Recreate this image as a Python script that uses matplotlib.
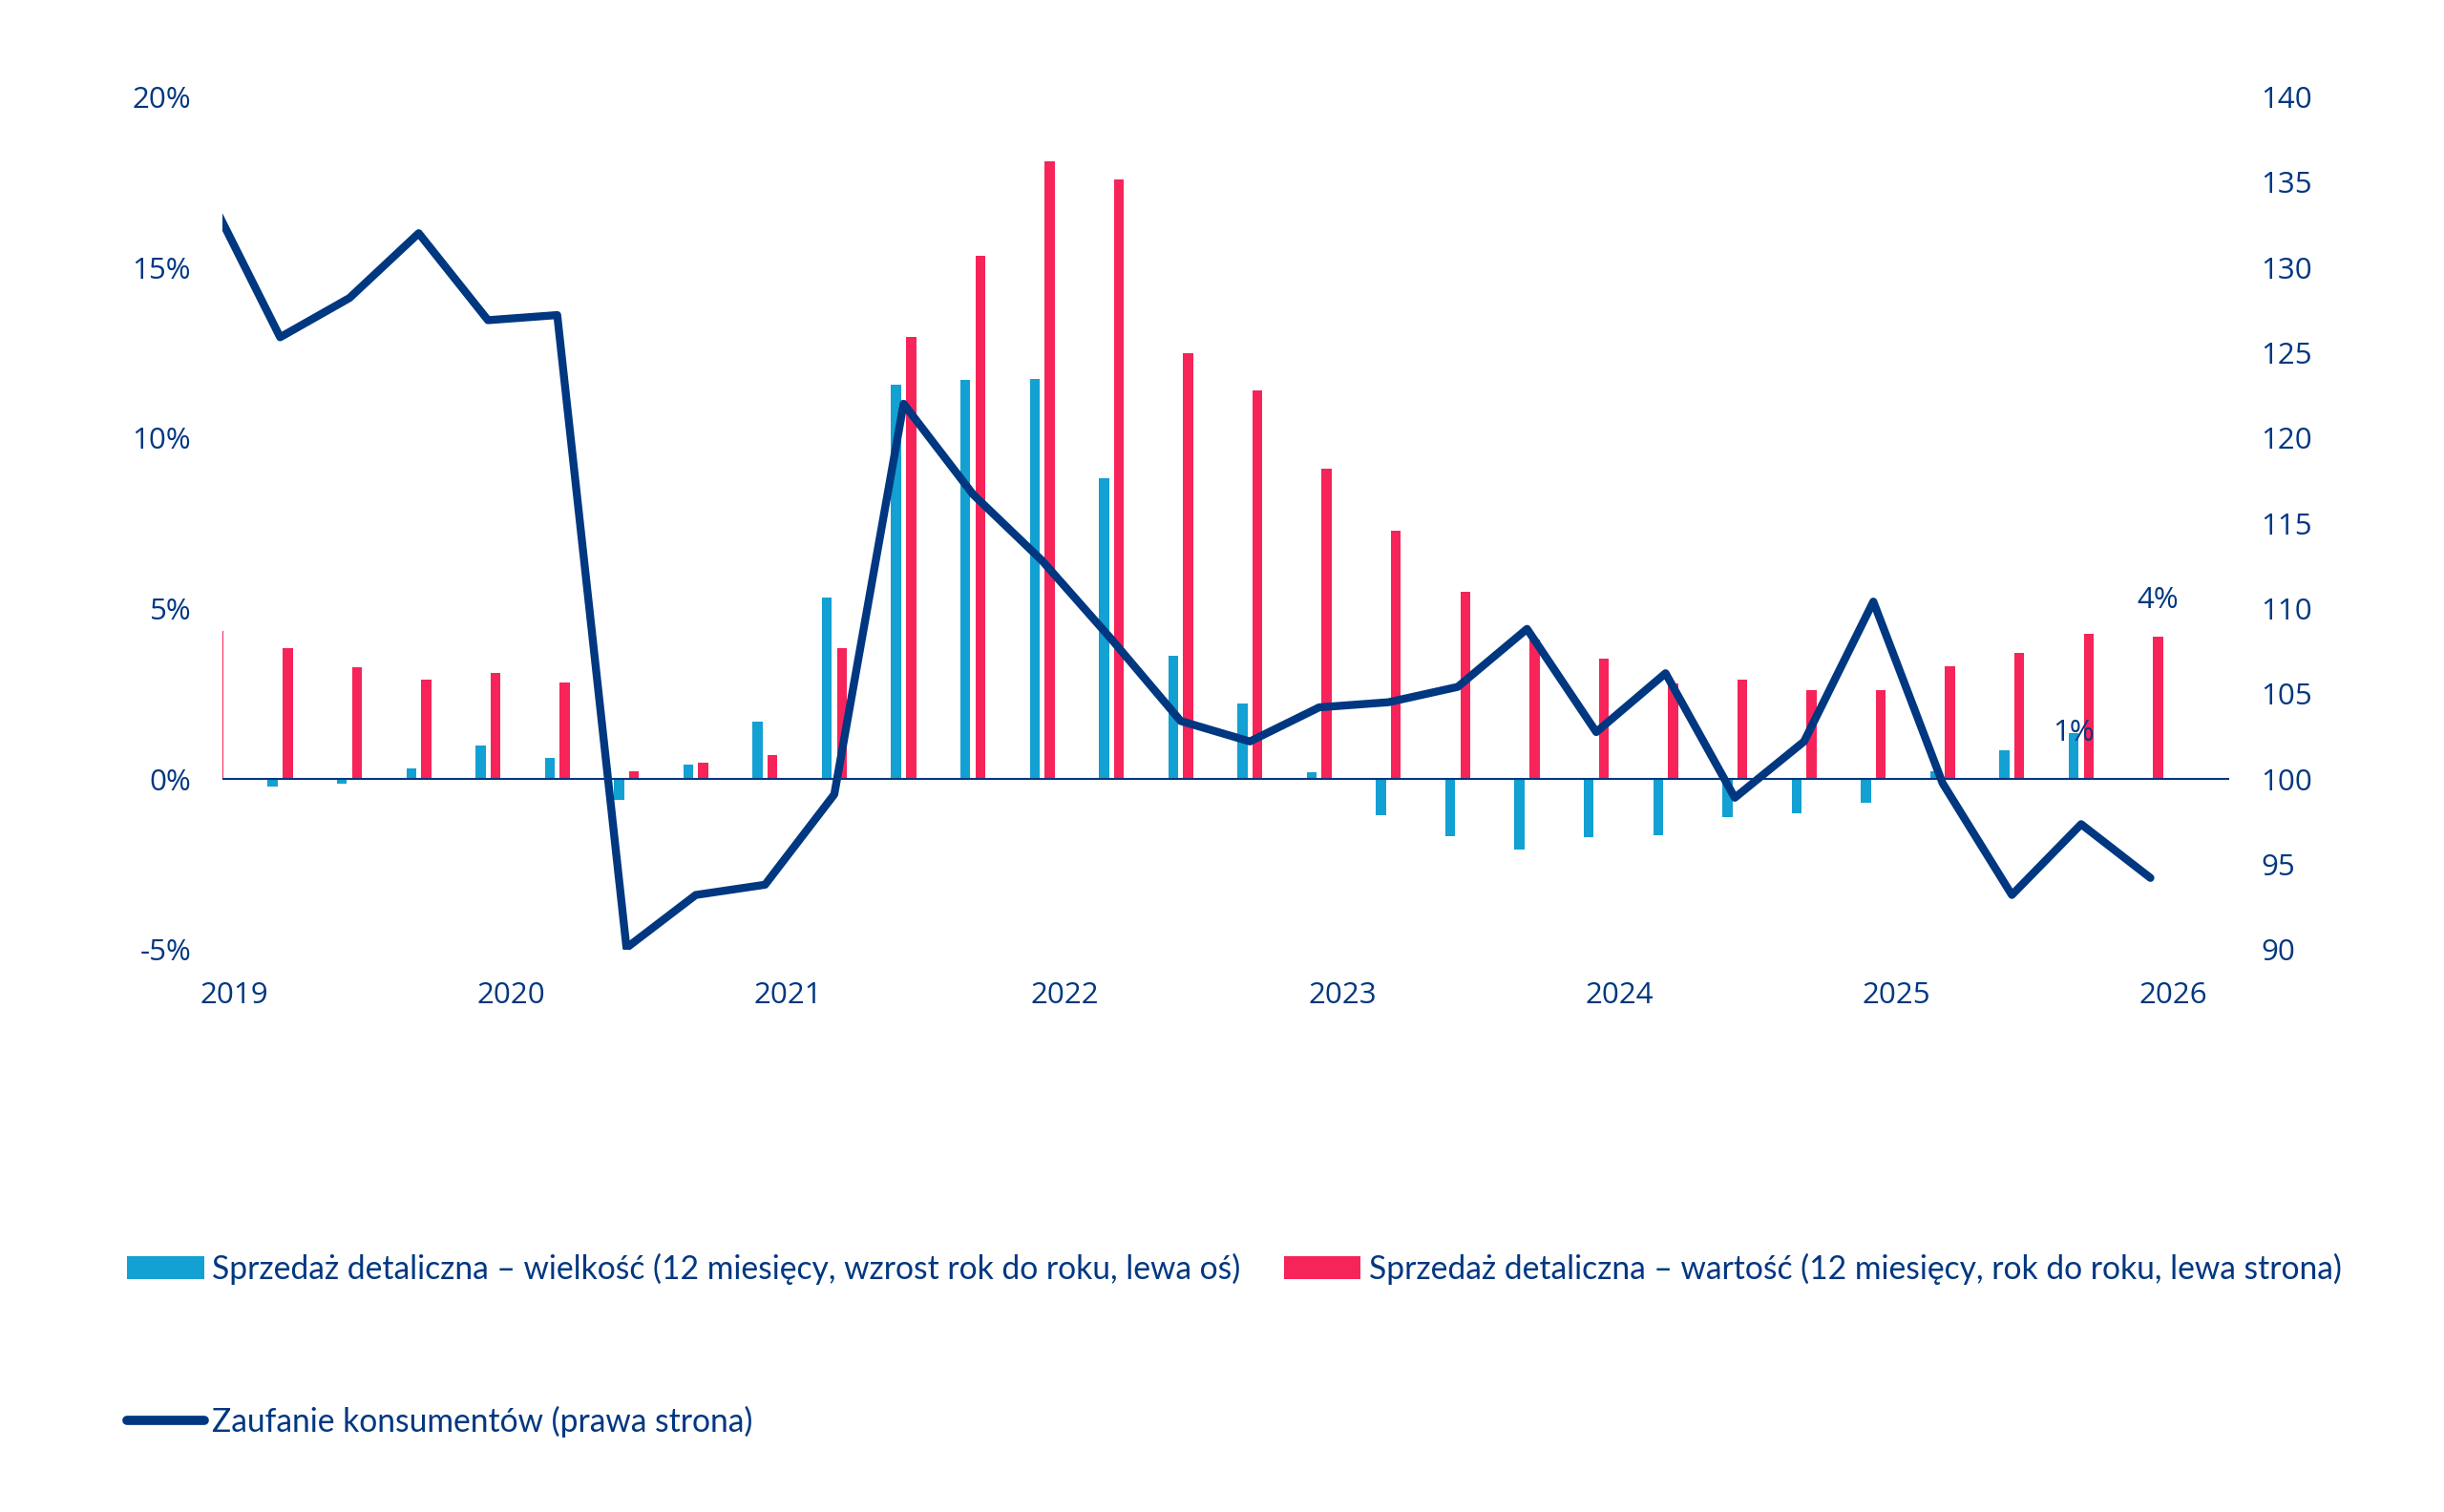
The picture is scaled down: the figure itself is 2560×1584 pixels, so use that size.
""" Retail sales vs consumer confidence chart

"""

# --------------------------------------------------
#   Imports
# --------------------------------------------------

import numpy as np
import matplotlib.pyplot as plt
from matplotlib.lines import Line2D
from matplotlib.patches import Patch


# --------------------------------------------------
#   Data
# --------------------------------------------------

periods = [
    "2018-11",
    "2019-02", "2019-05", "2019-08", "2019-11",
    "2020-02", "2020-05", "2020-08", "2020-11",
    "2021-02", "2021-05", "2021-08", "2021-11",
    "2022-02", "2022-05", "2022-08", "2022-11",
    "2023-02", "2023-05", "2023-08", "2023-11",
    "2024-02", "2024-05", "2024-08", "2024-11",
    "2025-02", "2025-05", "2025-08", "2025-11",
]

# retail sales volume, % y/y (left axis)
sales_volume = [
    np.nan,
    -0.23, -0.14, 0.32, 0.97,
    0.63, -0.62, 0.41, 1.69,
    5.33, 11.55, 11.69, 11.73,
    8.82, 3.62, 2.20, 0.21,
    -1.06, -1.68, -2.08, -1.71,
    -1.66, -1.13, -1.00, -0.71,
    0.23, 0.85, 1.34, np.nan,
]

# retail sales value, % y/y (left axis)
sales_value = [
    4.35,
    3.84, 3.28, 2.91, 3.12,
    2.84, 0.23, 0.49, 0.71,
    3.84, 12.96, 15.34, 18.11,
    17.57, 12.47, 11.38, 9.10,
    7.27, 5.49, 4.10, 3.53,
    2.80, 2.91, 2.61, 2.61,
    3.30, 3.70, 4.25, 4.18,
]

# consumer confidence index (right axis)
confidence = [
    134.0,
    125.9, 128.2, 132.0, 126.9,
    127.2, 90.1, 93.2, 93.8,
    99.1, 122.0, 116.7, 112.8,
    108.2, 103.4, 102.2, 104.2,
    104.5, 105.4, 108.8, 102.75,
    106.2, 98.9, 102.2, 110.4,
    99.75, 93.2, 97.35, 94.2,
]

year_ticks = [2019, 2020, 2021, 2022, 2023, 2024, 2025, 2026]
left_ticks = [-5, 0, 5, 10, 15, 20]
right_ticks = [90, 95, 100, 105, 110, 115, 120, 125, 130, 135, 140]

label_volume = "Sprzedaż detaliczna – wielkość (12 miesięcy, wzrost rok do roku, lewa oś)"
label_value = "Sprzedaż detaliczna – wartość (12 miesięcy, rok do roku, lewa strona)"
label_confidence = "Zaufanie konsumentów (prawa strona)"


# --------------------------------------------------
#   Style
# --------------------------------------------------

NAVY = "#003781"
LIGHT_BLUE = "#13A0D3"
RED = "#F62459"
TICK_FONT = "Open Sans"
LEGEND_FONT = "Lato"

plt.rcParams["font.family"] = [TICK_FONT, "DejaVu Sans"]


# --------------------------------------------------
#   Functions
# --------------------------------------------------

def period_to_year(period: str) -> float:
    year, month = period.split("-")
    return int(year) + int(month) / 12


def plot_chart() -> None:
    x = np.array([period_to_year(p) for p in periods])
    offset = 0.027
    width = 0.036

    fig = plt.figure(figsize=(25.6, 15.84), dpi=100)
    ax = fig.add_axes([0.0912, 0.372, 0.8208, 0.564])
    ax2 = ax.twinx()

    ax.bar(x - offset, sales_volume, width=width, color=LIGHT_BLUE)
    ax.bar(x + offset, sales_value, width=width, color=RED)
    ax.axhline(0, color=NAVY, lw=1.5)

    ax2.plot(x, confidence, color=NAVY, lw=6, solid_joinstyle="round",
             solid_capstyle="round")

    # data labels for the latest values
    ax.text(x[-2] - offset, sales_volume[-2], f"{sales_volume[-2]:.0f}%",
            ha="center", va="center", color=NAVY, fontsize=22.5, zorder=5)
    ax.text(x[-1] + offset, sales_value[-1] + 1.05, f"{sales_value[-1]:.0f}%",
            ha="center", va="center", color=NAVY, fontsize=22.5, zorder=5)

    ax.set_xlim(2018.96, 2026.2)
    ax.set_ylim(-5, 20)
    ax2.set_ylim(90, 140)
    ax.set_xticks(year_ticks)
    ax.set_xticklabels([str(y) for y in year_ticks])
    ax.set_yticks(left_ticks)
    ax.set_yticklabels([f"{t}%" for t in left_ticks])
    ax2.set_yticks(right_ticks)

    for a in (ax, ax2):
        for spine in a.spines.values():
            spine.set_visible(False)
        a.tick_params(length=0, colors=NAVY, labelsize=22.5, pad=24)

    handles = [
        Patch(facecolor=LIGHT_BLUE, edgecolor="none"),
        Line2D([], [], color=NAVY, lw=7, solid_capstyle="round"),
        Patch(facecolor=RED, edgecolor="none"),
    ]
    labels = [label_volume, label_confidence, label_value]
    leg = fig.legend(
        handles, labels,
        loc="upper left",
        bbox_to_anchor=(0.0455, 0.182),
        ncol=2,
        frameon=False,
        borderpad=0,
        handlelength=2.4,
        handleheight=0.75,
        handletextpad=0.25,
        columnspacing=1.34,
        labelspacing=3.8,
        prop={"family": LEGEND_FONT, "size": 24.2},
    )
    for text in leg.get_texts():
        text.set_color(NAVY)

    fig.savefig("out.png", dpi=100, facecolor="white")


if __name__ == "__main__":
    plot_chart()
